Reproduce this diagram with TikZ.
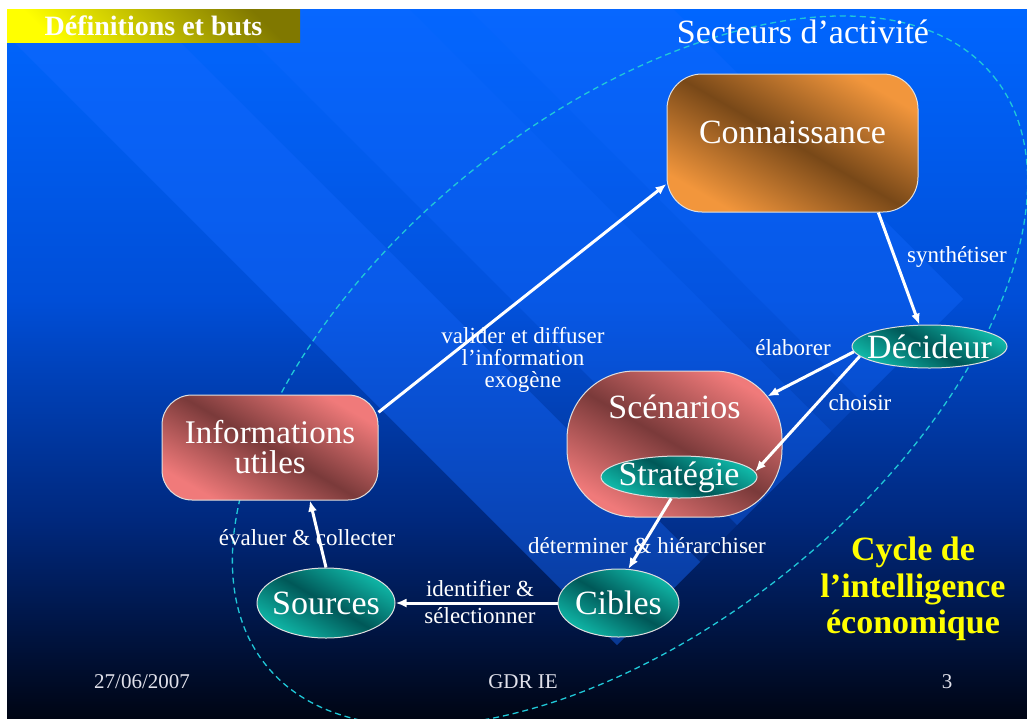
\documentclass[tikz,border=0pt]{standalone}
\usepackage{fontspec}
\setmainfont{Liberation Serif}
\usetikzlibrary{arrows.meta,shapes.geometric}

\definecolor{bgtop}{RGB}{0,102,255}
\definecolor{bgmid}{RGB}{0,78,215}
\definecolor{bglow}{RGB}{0,40,125}
\definecolor{bgbot}{RGB}{0,5,20}
\definecolor{bandcol}{RGB}{20,105,255}
\definecolor{orgL}{RGB}{242,150,60}
\definecolor{orgD}{RGB}{120,72,24}
\definecolor{pinkL}{RGB}{240,122,122}
\definecolor{pinkD}{RGB}{122,58,58}
\definecolor{tealL}{RGB}{16,184,168}
\definecolor{tealD}{RGB}{0,88,88}
\definecolor{ttlY}{RGB}{255,255,0}
\definecolor{ttlO}{RGB}{128,120,0}
\definecolor{ringcol}{RGB}{32,200,216}
\definecolor{cyclejaune}{RGB}{255,255,0}
\definecolor{piedgris}{RGB}{225,225,235}

\tikzset{
  bloc/.style={draw=white!75!gray, line width=1pt, text=white, inner sep=0pt,
    font=\fontsize{34}{30}\selectfont},
  boxorange/.style={bloc, rectangle, rounded corners=35pt,
    top color=orgL, bottom color=orgL, middle color=orgD, shading angle=-30},
  boxpink/.style={bloc, rectangle, rounded corners=35pt,
    top color=pinkL, bottom color=pinkL, middle color=pinkD, shading angle=-30},
  oval/.style={bloc, ellipse, inner xsep=-8pt, inner ysep=-1pt,
    top color=tealL, bottom color=tealL, middle color=tealD, shading angle=-30},
  fleche/.style={white, line width=3pt, -{Latex[length=11pt,width=9pt]}},
  etiq/.style={text=white, font=\fontsize{23}{22}\selectfont, inner sep=0pt},
  pied/.style={text=piedgris, font=\fontsize{21}{21}\selectfont, inner sep=0pt, anchor=base}
}

\begin{document}
\begin{tikzpicture}[x=1pt,y=-1pt]
        %fond de la diapositive
        \useasboundingbox (0,0) rectangle (1027,718);
        \fill[white] (0,0) rectangle (1027,718);
        \shade[top color=bgtop, bottom color=bgmid] (7,9) rectangle (1027,300.5);
        \shade[top color=bgmid, bottom color=bglow] (7,300) rectangle (1027,520.5);
        \shade[top color=bglow, bottom color=bgbot] (7,520) rectangle (1027,718);

        \begin{scope}
            \clip (7,9) rectangle (1027,718);
            \foreach \a/\b/\o in
            {-28/138/0.45, 138/212/0.15, 212/400/0.38, 400/460/0.22, 460/664/0.38}
            {
                \fill[bandcol, opacity=\o] ({(1262+\a)/2},{(1262-\a)/2}) -- ({(1262+\b)/2},{(1262-\b)/2})
                    -- ({(-600+\b)/2},{(-600-\b)/2}) -- ({(-600+\a)/2},{(-600-\a)/2}) -- cycle;
            };
        \end{scope}

        \draw[ringcol, line width=1.3pt, dash pattern=on 6pt off 4pt, rotate around={39:(630,371)}]
            (630,371) ellipse [x radius=468, y radius=255];

        \node[top color=ttlO, bottom color=ttlY, shading angle=-45, text=white, inner sep=0pt,
            minimum width=293pt, minimum height=33pt, font=\bfseries\fontsize{28}{28}\selectfont]
            (titre) at (153.5,25.5) {Définitions et buts};
        \node[text=white, inner sep=0pt, anchor=base, font=\fontsize{34}{34}\selectfont]
            (secteurs) at (803,43) {Secteurs d'activité};

        \node[boxorange, minimum width=251pt, minimum height=138pt, text height=23pt, text depth=23pt]
            (conn) at (792.5,143) {Connaissance};
        \node[boxpink, minimum width=216pt, minimum height=105pt, rounded corners=30pt, align=center,
            font=\fontsize{33}{30}\selectfont] (info) at (270,447.5) {Informations\\utiles};
        \node[boxpink, minimum width=215pt, minimum height=146pt, rounded corners=68pt,
            text height=24pt, text depth=76pt] (scen) at (674.5,444) {Scénarios};
        \node[oval, minimum width=156pt, minimum height=42pt] (strat) at (679,477) {Stratégie};
        \node[oval, minimum width=155pt, minimum height=43pt] (dec) at (929.5,346.5) {Décideur};
        \node[oval, minimum width=138pt, minimum height=70pt] (src) at (326,603) {Sources};
        \node[oval, minimum width=121pt, minimum height=68pt] (cib) at (618.5,603) {Cibles};

        \draw[fleche] (info.18) -- (conn.198);
        \draw[fleche] (conn.-39) -- (dec.115);
        \draw[fleche, shorten >=-17pt] (dec.184) -- (scen);
        \draw[fleche] (dec.188) -- (strat.4);
        \draw[fleche] (strat.250) -- (cib.74);
        \draw[fleche] (cib.west) -- (src.east);
        \draw[fleche] (src.north) -- (info.-53);

        \node[etiq, align=center] (lvalider) at (523,360) {valider et diffuser\\l'information\\exogène};
        \node[etiq, anchor=base] (lsynth) at (957,262) {synthétiser};
        \node[etiq, anchor=base] (lelab) at (793,355) {élaborer};
        \node[etiq, anchor=base] (lchoisir) at (860,410) {choisir};
        \node[etiq, anchor=base] (ldeterm) at (647,553) {déterminer \& hiérarchiser};
        \node[etiq, align=center, font=\fontsize{23}{27}\selectfont] (lident) at (480,602) {identifier \&\\sélectionner};
        \node[etiq, anchor=base] (leval) at (307,545) {évaluer \& collecter};

        \node[text=cyclejaune, inner sep=0pt, align=center, font=\bfseries\fontsize{34}{36.5}\selectfont]
            (cycle) at (913,589) {Cycle de\\l'intelligence\\économique};

        \node[pied] (date) at (142,688) {27/06/2007};
        \node[pied] (gdr) at (523,688) {GDR IE};
        \node[pied] (page) at (947,688) {3};

    \end{tikzpicture}
\end{document}
